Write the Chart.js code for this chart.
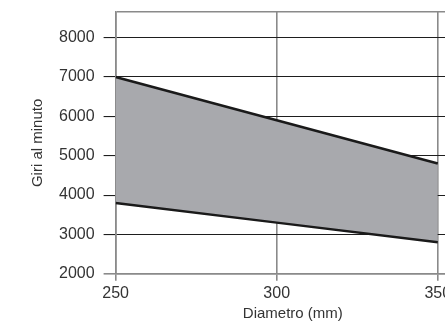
<!DOCTYPE html>
<html>
<head>
<meta charset="utf-8">
<script src="https://cdn.jsdelivr.net/npm/chart.js@4/dist/chart.umd.min.js"></script>
<style>
html,body{margin:0;padding:0;background:#fff;overflow:hidden;width:445px;height:321px;}
#wrap{position:absolute;left:0;top:0;width:470px;height:321px;}
</style>
</head>
<body>
<div id="wrap"><canvas id="c" width="470" height="321"></canvas></div>
<script>
const diameters = [250, 300, 350];
const upperRpm = [7000, 5900, 4800];
const lowerRpm = [3800, 3300, 2800];
const xTicks = [250, 300, 350];
const yTicks = [2000, 3000, 4000, 5000, 6000, 7000, 8000];
const xTitle = 'Diametro (mm)';
const yTitle = 'Giri al minuto';

const toPts = arr => diameters.map((d, i) => ({x: d, y: arr[i]}));
const GRAY = '#8a8a8a', DARK = '#1e1e1e';

new Chart(document.getElementById('c'), {
  type: 'line',
  data: {
    datasets: [
      {data: toPts(upperRpm), borderColor: '#1a1a1a', borderWidth: 2.5, pointRadius: 0,
       fill: '+1', backgroundColor: '#a8a9ad', tension: 0},
      {data: toPts(lowerRpm), borderColor: '#1a1a1a', borderWidth: 2.5, pointRadius: 0,
       fill: false, tension: 0}
    ]
  },
  options: {
    responsive: false,
    animation: false,
    devicePixelRatio: 1,
    layout: {padding: {top: 12, left: 22, right: 0, bottom: 0}},
    plugins: {legend: {display: false}, tooltip: {enabled: false}, filler: {drawTime: 'beforeDatasetsDraw'}},
    scales: {
      x: {
        type: 'linear', min: 250, max: 360,
        afterBuildTicks: s => { s.ticks = xTicks.map(v => ({value: v})); },
        grid: {color: GRAY, lineWidth: 1.6, tickLength: 7, tickColor: GRAY, drawOnChartArea: true},
        border: {color: GRAY, width: 1.6},
        ticks: {color: '#333', font: {family: 'Liberation Sans, Arial, sans-serif', size: 16}, padding: 3, maxRotation: 0},
        title: {display: true, text: xTitle, color: '#333', font: {family: 'Liberation Sans, Arial, sans-serif', size: 15, lineHeight: 1.0}, padding: {top: 0, bottom: 0}}
      },
      y: {
        type: 'linear', min: 2000, max: 8650,
        afterBuildTicks: s => { s.ticks = yTicks.map(v => ({value: v})).concat([{value: 8650}]); },
        afterFit: s => { s.paddingTop = 0; },
        grid: {
          color: c => (c.tick && (c.tick.value === 2000 || c.tick.value === 8650)) ? GRAY : DARK,
          lineWidth: c => (c.tick && (c.tick.value === 2000 || c.tick.value === 8650)) ? 1.6 : 1.1,
          tickColor: c => (c.tick && c.tick.value === 8650) ? 'rgba(0,0,0,0)' : (c.tick && c.tick.value === 2000 ? GRAY : DARK),
          tickLength: 12
        },
        border: {color: GRAY, width: 1.6},
        ticks: {color: '#333', font: {family: 'Liberation Sans, Arial, sans-serif', size: 16}, padding: 9,
          callback: v => yTicks.includes(v) ? String(v) : ''},
        title: {display: true, text: yTitle, color: '#333', font: {family: 'Liberation Sans, Arial, sans-serif', size: 15}, padding: {top: 7, bottom: 3}}
      }
    }
  }
});
</script>
</body>
</html>
